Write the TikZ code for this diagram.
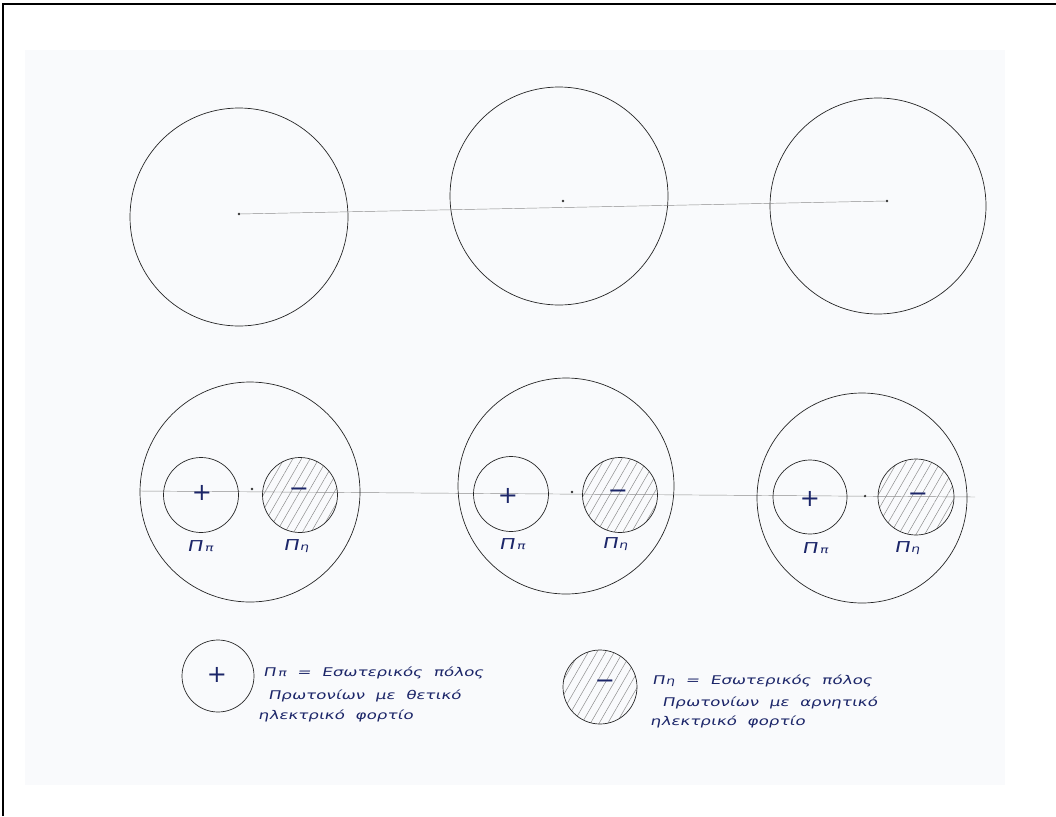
\documentclass[tikz,border=0pt]{standalone}
\usepackage{fontspec}
\setmainfont{DejaVu Sans}
\newfontfamily\hand[FakeSlant=0.2,FakeStretch=1.4,WordSpace=2]{DejaVu Sans}
\usetikzlibrary{patterns.meta}
\definecolor{ink}{RGB}{28,38,105}
\definecolor{paper}{RGB}{249,250,252}
\newcommand{\Ppi}{Π\kern2pt{\fontsize{10}{10}\selectfont π}}
\newcommand{\Peta}{Π\kern1pt{\fontsize{10}{10}\selectfont η}}

\begin{document}
\begin{tikzpicture}[
    x=1pt, y=-1pt,
    ring/.style={circle, draw=black!85, line width=0.7pt, inner sep=0pt, minimum size=#1},
    hatch/.style={pattern={Lines[angle=60, distance=7.5pt, line width=0.5pt]}, pattern color=black!45},
    dot/.style={circle, fill=black!80, inner sep=0.9pt},
    midline/.style={draw=black!45, line width=0.45pt},
    sign/.style={text=ink, font=\fontsize{24}{24}\selectfont, inner sep=0pt},
    lbl/.style={text=ink, font=\hand\fontsize{15}{15}\selectfont, inner sep=0pt},
    note/.style={text=ink, font=\hand\fontsize{12}{12}\selectfont, anchor=west, inner sep=0pt}
]
    \useasboundingbox (0,0) rectangle (1056,816);

    % frame and paper
    \fill[paper] (25,50) rectangle (1005,785);
    \draw[line width=2.5pt] (3,816) -- (3,4) -- (1056,4);

    % 1. top row: three circles on one line
    \node[ring=218pt] (top1) at (239,217) {};
    \node[ring=218pt] (top2) at (559,196) {};
    \node[ring=216pt] (top3) at (878,206) {};
    \node[dot] (t1) at (239,214) {};
    \node[dot] (t2) at (563,201) {};
    \node[dot] (t3) at (887,201) {};
    \draw[midline] (t1) -- (t3);

    % 2. bottom row: the axis through all three
    \coordinate (ax0) at (140,491);
    \coordinate (ax1) at (975,497);
    \draw[midline] (ax0) -- (ax1);

    % 2a. left group
    \node[ring=220pt] (big1) at (250,492) {};
    \node[ring=75pt] (pp1) at (201,495) {};
    \node[ring=75pt, hatch] (pn1) at (300,495) {};
    \node[dot] (m1) at (252,489) {};
    \node[sign] (plus1) at (202,493) {+};
    \node[sign] (minus1) at (299,492) {−};
    \node[lbl] (lp1) at (200,546) {\Ppi};
    \node[lbl] (ln1) at (296,546) {\Peta};

    % 2b. middle group
    \node[ring=216pt] (big2) at (566,486) {};
    \node[ring=75pt] (pp2) at (511,494) {};
    \node[ring=75pt, hatch] (pn2) at (620,495) {};
    \node[dot] (m2) at (572,492) {};
    \node[sign] (plus2) at (508,496) {+};
    \node[sign] (minus2) at (618,494) {−};
    \node[lbl] (lp2) at (512,544) {\Ppi};
    \node[lbl] (ln2) at (615,544) {\Peta};

    % 2c. right group
    \node[ring=210pt] (big3) at (862,498) {};
    \node[ring=74pt] (pp3) at (810,497) {};
    \node[ring=76pt, hatch] (pn3) at (916,497) {};
    \node[dot] (m3) at (865,496) {};
    \node[sign] (plus3) at (810,499) {+};
    \node[sign] (minus3) at (918,497) {−};
    \node[lbl] (lp3) at (815,548) {\Ppi};
    \node[lbl] (ln3) at (907,548) {\Peta};

    % 3. key
    \node[ring=72pt] (keyp) at (218,676) {};
    \node[sign] (keyplus) at (217,675) {+};
    \node[note] (kp1) at (263,673) {\Ppi\ = Εσωτερικός πόλος};
    \node[note] (kp2) at (268,696) {Πρωτονίων με θετικό};
    \node[note] (kp3) at (258,716) {ηλεκτρικό φορτίο};

    \node[ring=74pt, hatch] (keyn) at (600,687) {};
    \node[sign] (keyminus) at (605,684) {−};
    \node[note] (kn1) at (652,681) {\Peta\ = Εσωτερικός πόλος};
    \node[note] (kn2) at (662,703) {Πρωτονίων με αρνητικό};
    \node[note] (kn3) at (650,722) {ηλεκτρικό φορτίο};

\end{tikzpicture}
\end{document}
